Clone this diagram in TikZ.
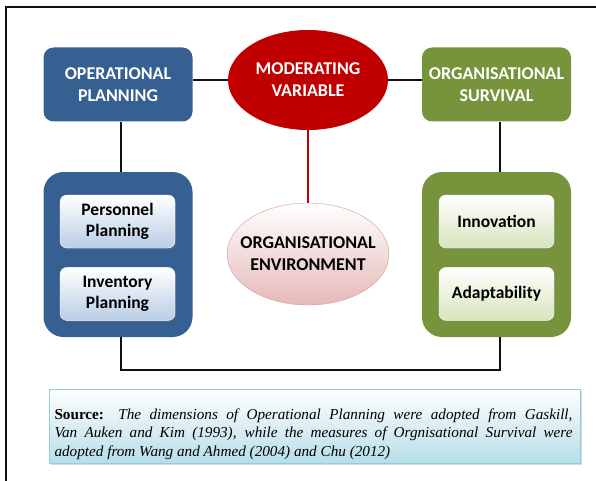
\documentclass[tikz,border=0pt]{standalone}
\usepackage{fontspec}
\setmainfont{Liberation Serif}
\newfontfamily\cbfont{Carlito}
\usetikzlibrary{shapes.geometric,positioning,shadows}
\definecolor{fwInk}{HTML}{111111}
\definecolor{fwBlue}{HTML}{366092}
\definecolor{fwGreen}{HTML}{77933C}
\definecolor{fwRed}{HTML}{C00000}
\definecolor{fwBlueTint}{HTML}{B9CDE5}
\definecolor{fwGreenTint}{HTML}{D7E4BD}
\definecolor{fwPink}{HTML}{E6B9B8}
\definecolor{fwPinkEdge}{HTML}{D99694}
\definecolor{fwAqua}{HTML}{B7DEE8}
\definecolor{fwAquaEdge}{HTML}{93CDDD}
\tikzset{
  hdr/.style={rounded corners=10pt, minimum width=149pt, minimum height=74pt, inner sep=0pt, text=white, align=center, font=\cbfont\bfseries\fontsize{18}{22}\selectfont},
  hdrB/.style={hdr, fill=fwBlue},
  hdrG/.style={hdr, fill=fwGreen},
  grp/.style={rounded corners=20pt, minimum width=149pt, minimum height=165pt, inner sep=0pt},
  itm/.style={rounded corners=7pt, minimum width=115pt, minimum height=53pt, inner sep=0pt, align=center, draw=white, font=\cbfont\bfseries\fontsize{17.5}{21}\selectfont, drop shadow={shadow xshift=1pt, shadow yshift=-1.5pt, opacity=0.3}},
  itmB/.style={itm, top color=white, bottom color=fwBlueTint},
  itmG/.style={itm, top color=white, bottom color=fwGreenTint},
  ovl/.style={ellipse, minimum width=160pt, minimum height=100pt, inner xsep=-12pt, inner ysep=0pt, align=center, font=\cbfont\bfseries\fontsize{18}{22}\selectfont},
  conn/.style={line width=1.5pt, draw=fwInk},
}

\begin{document}
\begin{tikzpicture}[x=1pt, y=-1pt]
  \useasboundingbox (0,0) rectangle (596,481);
  % page frame (left and top edges only)
  \draw[line width=1.5pt, fwInk] (6,481) -- (6,7) -- (596,7);

  % top row
  \node[hdrB] (op) at (118,84.5) {OPERATIONAL\\PLANNING};
  \node[ovl, fill=fwRed, text=white] (mv) at (308,80) {MODERATING\\VARIABLE};
  \node[hdrG] (os) at (496.5,84.5) {ORGANISATIONAL\\SURVIVAL};

  % dimension groups
  \node[grp, fill=fwBlue] (opgrp) at (118,254.5) {};
  \node[itmB] (pp) at (117.5,221.5) {Personnel\\Planning};
  \node[itmB, below=19pt of pp] (ip) {Inventory\\Planning};

  \node[grp, fill=fwGreen] (osgrp) at (496.5,254.5) {};
  \node[itmG] (inn) at (496.5,221.5) {Innovation};
  \node[itmG, below=19pt of inn] (ada) {Adaptability};

  \node[ovl, minimum width=162pt, minimum height=102pt, draw=fwPinkEdge, top color=white, bottom color=fwPink] (env) at (308,254) {ORGANISATIONAL\\ENVIRONMENT};

  % links
  \draw[conn] (op.east |- mv.center) -- (mv.west);
  \draw[conn] (mv.east) -- (mv.east -| os.west);
  \draw[conn] ([xshift=3pt]op.south) -- ([xshift=3pt]opgrp.north);
  \draw[conn] ([xshift=3.5pt]os.south) -- ([xshift=3.5pt]osgrp.north);
  \draw[conn] ([xshift=3pt]opgrp.south) -- ++(0,33) -| ([xshift=3.5pt]osgrp.south);
  \draw[line width=1.5pt, fwRed] (mv) -- (env);

  % source note
  \node[draw=fwAquaEdge, line width=1pt, top color=white, bottom color=fwAqua, minimum width=531pt, minimum height=74pt, drop shadow={shadow xshift=2pt, shadow yshift=-2pt, opacity=0.3}] (src) at (314.5,426) {};
  \node[text width=518pt, align=justify, inner sep=0pt, font=\fontsize{15.2}{18.5}\selectfont] (srctxt) at ([xshift=-1pt,yshift=-8pt]src.center) {\textbf{Source:} \textit{The dimensions of Operational Planning were adopted from Gaskill,\linebreak Van Auken and Kim (1993), while the measures of Orgnisational Survival were\linebreak adopted from Wang and Ahmed (2004) and Chu (2012)}};
\end{tikzpicture}
\end{document}
